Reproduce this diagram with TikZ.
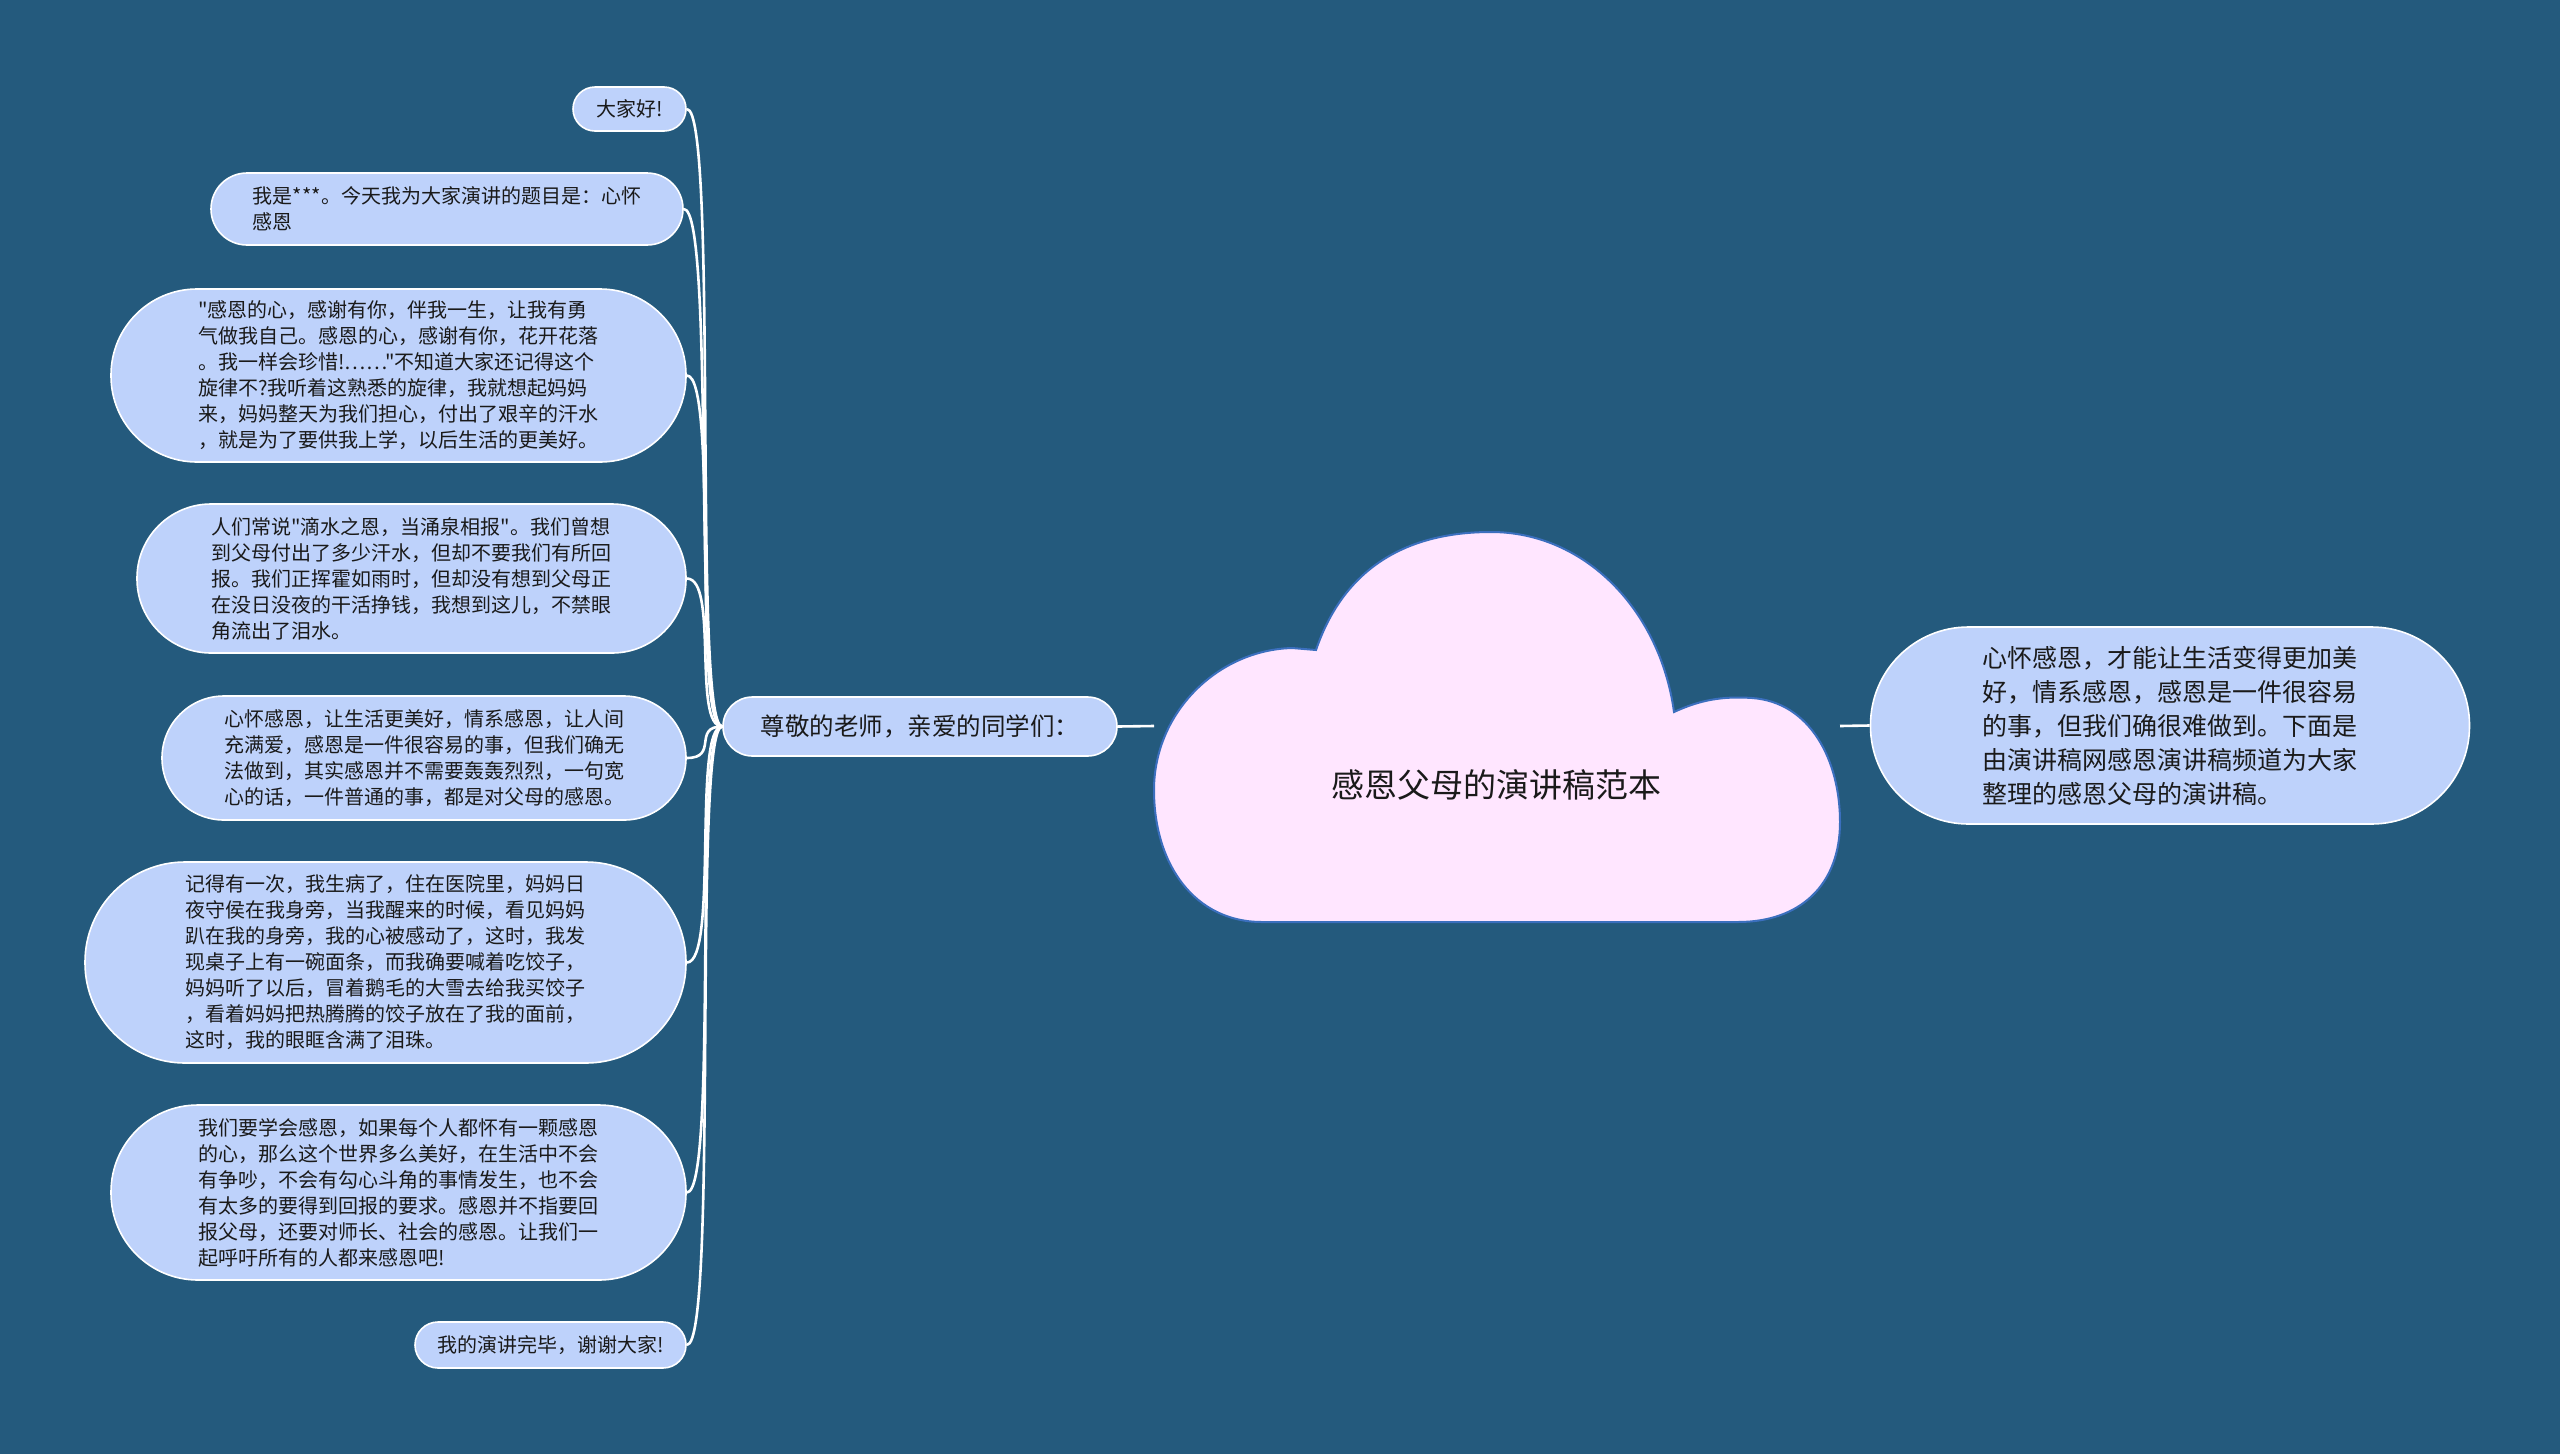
\documentclass[tikz,border=0pt]{standalone}
\usepackage{fontspec}
\newfontfamily\cjk{Noto Sans CJK SC}
\definecolor{bgc}{HTML}{245A7D}
\definecolor{leafc}{HTML}{BED2FB}
\definecolor{cloudc}{HTML}{FFE6FF}
\definecolor{cloudb}{HTML}{3B6FBE}
\definecolor{txt}{HTML}{1A1A1A}
\tikzset{
  leaf/.style={draw=white, line width=1.6pt, fill=leafc, text=txt, align=left, inner sep=0pt,
    font=\cjk\fontsize{20}{26}\selectfont},
  link/.style={draw=white, line width=2.6pt},
}
\begin{document}
\begin{tikzpicture}[x=1pt,y=-1pt]
\fill[bgc] (0,0) rectangle (2560,1454);
\useasboundingbox (0,0) rectangle (2560,1454);

% cloud
\path[fill=cloudc, draw=cloudb, line width=2pt]
  (1316,650) .. controls (1345,565) and (1410,532) .. (1491,532)
  .. controls (1585,532) and (1660,610) .. (1674,712)
  .. controls (1700,700) and (1722,696) .. (1752,698)
  .. controls (1810,702) and (1840,760) .. (1840,822)
  .. controls (1840,885) and (1800,922) .. (1738,922)
  -- (1262,922)
  .. controls (1195,922) and (1154,865) .. (1154,790)
  .. controls (1154,712) and (1218,650) .. (1292,648)
  -- cycle;
\node[text=txt, font=\cjk\fontsize{33}{40}\selectfont] (root) at (1496,785) {感恩父母的演讲稿范本};
\coordinate (cl) at (1154,726);
\coordinate (cr) at (1840,726);

% main branch
\node[leaf, font=\cjk\fontsize{24.5}{30}\selectfont, minimum width=394pt, minimum height=59pt, rounded corners=29.5pt] (br) at (920,726.5) {尊敬的老师，亲爱的同学们：};

% right node
\node[leaf, font=\cjk\fontsize{25}{34}\selectfont, minimum width=599pt, minimum height=197pt, rounded corners=98pt] (rt) at (2170,725.5) {心怀感恩，才能让生活变得更加美\\好，情系感恩，感恩是一件很容易\\的事，但我们确很难做到。下面是\\由演讲稿网感恩演讲稿频道为大家\\整理的感恩父母的演讲稿。};

\draw[link] (br.east) -- (cl);
\draw[link] (cr) -- (rt.west);

% leaves
\node[leaf, minimum width=113pt, minimum height=44pt, rounded corners=22pt] (l1) at (629.5,109) {大家好!};
\node[leaf, minimum width=472pt, minimum height=72pt, rounded corners=36pt] (l2) at (447,209) {我是***。今天我为大家演讲的题目是：心怀\\感恩\phantom{我是***。今天我为大家演讲的题目}};
\node[leaf, minimum width=575pt, minimum height=173pt, rounded corners=86pt] (l3) at (398.5,375.5) {"感恩的心，感谢有你，伴我一生，让我有勇\\气做我自己。感恩的心，感谢有你，花开花落\\。我一样会珍惜!……"不知道大家还记得这个\\旋律不?我听着这熟悉的旋律，我就想起妈妈\\来，妈妈整天为我们担心，付出了艰辛的汗水\\，就是为了要供我上学，以后生活的更美好。};
\node[leaf, minimum width=549pt, minimum height=149pt, rounded corners=74pt] (l4) at (411.5,578.5) {人们常说"滴水之恩，当涌泉相报"。我们曾想\\到父母付出了多少汗水，但却不要我们有所回\\报。我们正挥霍如雨时，但却没有想到父母正\\在没日没夜的干活挣钱，我想到这儿，不禁眼\\角流出了泪水。};
\node[leaf, minimum width=524pt, minimum height=124pt, rounded corners=62pt] (l5) at (424,758) {心怀感恩，让生活更美好，情系感恩，让人间\\充满爱，感恩是一件很容易的事，但我们确无\\法做到，其实感恩并不需要轰轰烈烈，一句宽\\心的话，一件普通的事，都是对父母的感恩。};
\node[leaf, minimum width=601pt, minimum height=201pt, rounded corners=100pt] (l6) at (385.5,962.5) {记得有一次，我生病了，住在医院里，妈妈日\\夜守侯在我身旁，当我醒来的时候，看见妈妈\\趴在我的身旁，我的心被感动了，这时，我发\\现桌子上有一碗面条，而我确要喊着吃饺子，\\妈妈听了以后，冒着鹅毛的大雪去给我买饺子\\，看着妈妈把热腾腾的饺子放在了我的面前，\\这时，我的眼眶含满了泪珠。};
\node[leaf, minimum width=575pt, minimum height=175pt, rounded corners=87pt] (l7) at (398.5,1192.5) {我们要学会感恩，如果每个人都怀有一颗感恩\\的心，那么这个世界多么美好，在生活中不会\\有争吵，不会有勾心斗角的事情发生，也不会\\有太多的要得到回报的要求。感恩并不指要回\\报父母，还要对师长、社会的感恩。让我们一\\起呼吁所有的人都来感恩吧!};
\node[leaf, minimum width=271pt, minimum height=46pt, rounded corners=23pt] (l8) at (550.5,1345) {我的演讲完毕，谢谢大家!};

\foreach \n in {l1,l2,l3,l4,l5,l6,l7,l8}{
  \draw[link] (br.west) .. controls +(-30,0) and +(32,0) .. (\n.east);
}
\end{tikzpicture}
\end{document}
